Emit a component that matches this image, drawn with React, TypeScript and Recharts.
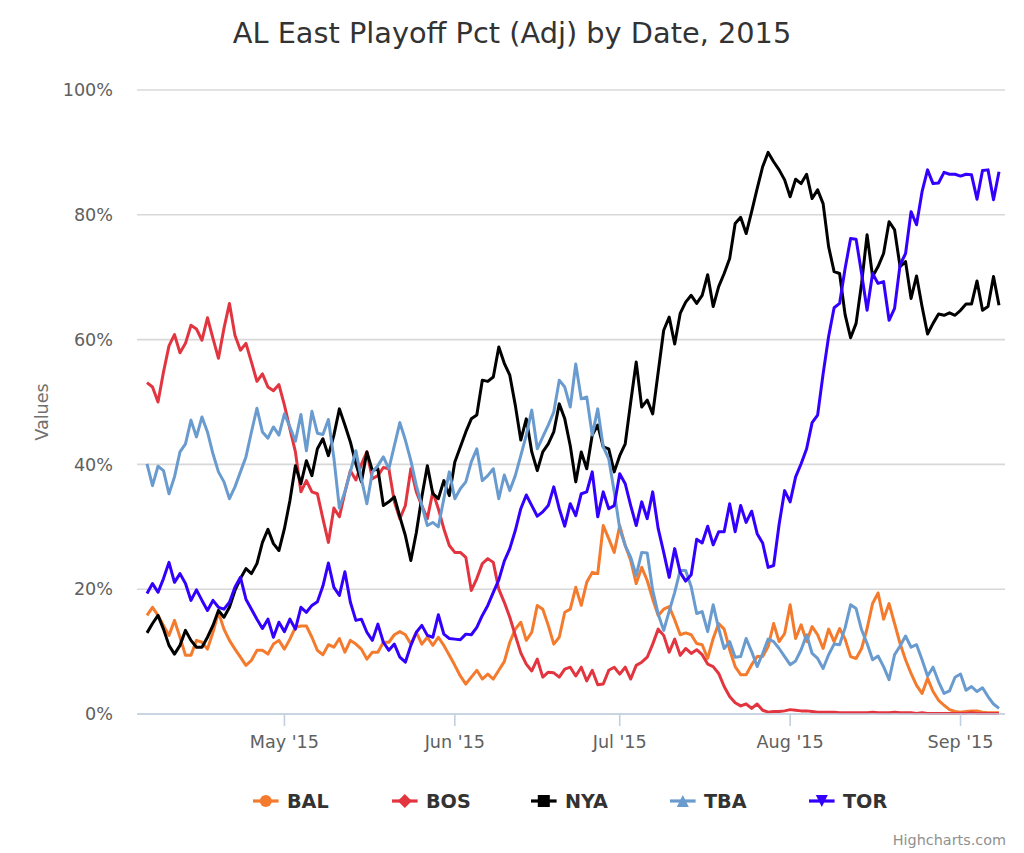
import React from 'react';
import { LineChart, Line, XAxis, YAxis, CartesianGrid } from 'recharts';

// Day index 0 = Apr 6, 2015 (one value per day)
const SERIES_NAMES = ['BAL', 'BOS', 'NYA', 'TBA', 'TOR'];
const SERIES_COLORS = ['#f47b2d', '#e2353f', '#000000', '#6a9bcf', '#3300ff'];
const SERIES_SYMBOLS = ['circle', 'diamond', 'square', 'triangle', 'triangle-down'];

const bal = [
  15.8, 17.1, 15.8, 14.2, 12.6, 15, 12.3, 9.4, 9.4, 11.8,
  11.5, 10.4, 13.1, 16.3, 13.6, 11.8, 10.4, 9.1, 7.8, 8.6,
  10.2, 10.2, 9.6, 11.2, 11.8, 10.4, 12, 13.9, 14.1, 14.1,
  12.3, 10.2, 9.5, 11.1, 10.7, 12.1, 9.9, 11.8, 11.2, 10.4,
  8.8, 9.9, 9.9, 11.5, 11.5, 12.7, 13.2, 12.7, 11.2, 13.1,
  11.2, 12.3, 11, 12.3, 11, 9.4, 7.8, 6.1, 4.8, 5.9,
  7, 5.6, 6.4, 5.6, 7, 8.4, 11.5, 13.6, 14.7, 11.8,
  13.1, 17.4, 16.8, 14.2, 11.2, 12.3, 16.3, 16.8, 20.3, 17.4,
  21.1, 22.7, 22.5, 30.2, 28.1, 25.9, 30.2, 27, 24.6, 20.9,
  23.5, 21.4, 18.4, 15.8, 16.8, 17.2, 15.1, 12.7, 13, 12.7,
  11.3, 11.1, 8.9, 12.1, 14.5, 13.6, 10.3, 7.6, 6.3, 6.3,
  7.9, 9.2, 9.2, 10.8, 14.5, 11.6, 12.9, 17.5, 12.1, 14.3,
  11.6, 14, 12.7, 10.5, 13.6, 11.6, 13.7, 12, 9.2, 8.9,
  10.5, 13.7, 17.7, 19.4, 15.2, 17.7, 14.5, 11.3, 8.7, 6.5,
  4.6, 3.3, 5.7, 3.6, 2.2, 1.4, 0.7, 0.4, 0.3, 0.4,
  0.5, 0.5, 0.3, 0.2, 0.2, 0.2,
];

const bos = [
  53.1, 52.4, 50, 54.8, 59, 60.8, 57.9, 59.4, 62.3, 61.7,
  59.9, 63.5, 60.2, 57, 61.8, 65.8, 60.7, 58.3, 59.4, 56.4,
  53.3, 54.5, 52.4, 51.8, 52.8, 49.5, 45.7, 42, 35.6, 37.4,
  35.6, 35.3, 31.3, 27.5, 33, 31.6, 35.5, 39, 37.5, 40,
  42, 37.7, 38.2, 39.5, 39.3, 34, 31.3, 33.4, 39.3, 35.6,
  33.4, 31.3, 35.6, 32.9, 29.7, 27, 25.9, 25.9, 25.1, 19.8,
  21.7, 24.1, 24.9, 24.3, 20, 17.9, 15.5, 12.6, 9.8, 8,
  6.9, 8.8, 5.9, 6.7, 6.6, 5.9, 7.2, 7.5, 6.1, 7.5,
  5.3, 7, 4.7, 4.8, 7, 7.5, 6.4, 7.5, 5.6, 7.8,
  8.3, 9.1, 11.2, 13.6, 12.6, 9.9, 12, 9.4, 10.5, 9.7,
  10.3, 9.5, 8, 7.6, 6.5, 4.4, 2.8, 1.8, 1.3, 1.6,
  0.9, 1.6, 0.6, 0.3, 0.4, 0.4, 0.5, 0.7, 0.6, 0.5,
  0.5, 0.4, 0.3, 0.3, 0.3, 0.3, 0.2, 0.2, 0.2, 0.2,
  0.2, 0.2, 0.3, 0.2, 0.2, 0.2, 0.3, 0.2, 0.2, 0.2,
  0.1, 0.2, 0.1, 0.1, 0.1, 0.1, 0.1, 0.1, 0.1, 0.1,
  0.2, 0.1, 0.1, 0.1, 0.1, 0.1,
];

const nya = [
  13, 14.5, 15.8, 13.6, 11, 9.6, 11, 13.4, 11.8, 10.7,
  10.7, 12.3, 14.2, 16.6, 15.5, 17.1, 19.8, 21.7, 23.3, 22.5,
  24.1, 27.5, 29.6, 27.3, 26.2, 29.7, 34.2, 39.8, 36.9, 40.6,
  38.2, 42.5, 44.1, 41.4, 44.7, 48.9, 46.3, 43.6, 40.1, 37.2,
  42, 39, 39.3, 33.4, 34, 34.8, 31.6, 28.6, 24.6, 29.1,
  34.8, 39.8, 35.3, 34.5, 37.4, 35, 40.4, 42.8, 45.2, 47.3,
  47.9, 53.5, 53.3, 54, 58.8, 56.2, 54.3, 49.5, 43.9, 47.3,
  42, 39, 42, 43.3, 45.2, 49.7, 47.3, 43, 37.2, 42,
  39.3, 44.7, 46.3, 42.8, 42.5, 38.8, 41.4, 43.3, 50, 56.4,
  49.2, 50.3, 48.1, 54.8, 61.5, 63.6, 59.3, 64.2, 66, 67.1,
  65.8, 67.1, 70.4, 65.3, 68.5, 70.6, 73, 78.6, 79.6, 77,
  80.5, 84.2, 87.7, 90, 88.5, 87.2, 85.6, 82.9, 85.7, 85,
  86.5, 82.6, 84, 81.8, 74.9, 70.9, 70.6, 64, 60.3, 62.6,
  69, 76.8, 70.1, 71.7, 73.8, 78.9, 77.6, 71.7, 72.5, 66.6,
  70.2, 65.3, 60.9, 62.6, 64.1, 63.9, 64.3, 63.9, 64.7, 65.7,
  65.7, 69.4, 64.7, 65.3, 70.1, 65.5,
];

const tba = [
  40.1, 36.6, 39.7, 39, 35.3, 38, 42, 43.3, 47.1, 44.4,
  47.6, 45.2, 41.7, 38.8, 37.2, 34.5, 36.4, 38.8, 41.2, 45.2,
  49, 45.2, 44.2, 46, 44.7, 48.1, 46, 43.7, 48, 42.2,
  48.5, 45, 44.8, 47.2, 41, 33, 35.6, 38.8, 42.2, 37.7,
  33.7, 38.8, 39.8, 41.2, 39.3, 43, 46.7, 43.9, 40.6, 36.6,
  33.4, 30.2, 30.7, 30, 34.5, 38.8, 34.5, 36.1, 37.2, 40.4,
  42.5, 37.4, 38.2, 39.3, 34.5, 38.3, 35.8, 38.2, 41.4, 44.7,
  48.7, 42.5, 44.4, 46.3, 48.4, 53.5, 52.4, 49.2, 56.1, 50.5,
  50.8, 44.7, 48.9, 42.8, 40.9, 35.6, 29.7, 27, 25.1, 22.2,
  25.9, 25.8, 19.8, 16, 13.4, 16.5, 19.5, 23, 23, 20.4,
  16.1, 16.4, 13.2, 17.5, 13.7, 10.5, 11.6, 9.1, 9.2, 12.1,
  10, 7.6, 9.7, 12, 11.6, 10.5, 9.2, 7.9, 8.5, 10.3,
  12.7, 9.7, 8.9, 7.3, 9.5, 11.2, 11.1, 13.8, 17.5, 16.9,
  13.5, 11.3, 8.7, 9.3, 7.6, 5.5, 9.5, 10.9, 12.5, 10.7,
  11.1, 8.7, 6.1, 7.5, 5.2, 3.3, 3.7, 5.9, 6.4, 3.8,
  4.4, 3.6, 4.2, 2.8, 1.6, 0.9,
];

const tor = [
  19.3, 20.9, 19.5, 21.7, 24.3, 21.1, 22.5, 20.9, 18.2, 19.9,
  18.2, 16.6, 18.2, 17.1, 16.8, 17.9, 20.3, 21.9, 18.4, 16.8,
  15.2, 13.7, 15.2, 12.3, 14.7, 13.2, 15.2, 13.6, 17.1, 16.3,
  17.4, 18, 20.5, 24.2, 20.3, 19, 22.8, 17.9, 15, 15.2,
  13.1, 11.8, 14.4, 11.5, 10.2, 11.2, 9.1, 8.3, 11, 13.1,
  14.2, 12.6, 12.3, 15.9, 12.8, 12.1, 12, 11.9, 12.8, 12.7,
  13.9, 15.8, 17.4, 19.5, 21.5, 24.5, 26.5, 29.4, 32.9, 35.1,
  33.4, 31.7, 32.4, 33.4, 36.4, 32.9, 30.1, 33.7, 31.8, 35.3,
  35.6, 38.8, 31.6, 35.6, 32.9, 33.4, 38.5, 36.9, 33.4, 30.2,
  34, 31.3, 35.6, 29.7, 25.9, 21.9, 26.5, 22.7, 21.3, 22.3,
  28, 27.4, 30.1, 27.1, 29.2, 29.2, 33.7, 29.2, 33.4, 30.7,
  32.5, 28.9, 27.4, 23.5, 23.8, 30.4, 35.8, 34, 38, 40.1,
  42.5, 46.7, 47.9, 54.5, 60.5, 65.1, 65.8, 71.4, 76.2, 76.1,
  70.6, 64.7, 70.6, 69, 69.3, 63.1, 65, 72, 73.8, 80.5,
  78.4, 83.7, 87.2, 85, 85.1, 86.8, 86.5, 86.5, 86.2, 86.5,
  86.4, 82.5, 87.1, 87.2, 82.4, 86.9,
];

// Month starts as day offsets from Apr 6
const MONTH_TICKS = [25, 56, 86, 117, 148];
const MONTH_LABELS = ["May '15", "Jun '15", "Jul '15", "Aug '15", "Sep '15"];
const Y_TICKS = [0, 20, 40, 60, 80, 100];

const SERIES_VALUES = [bal, bos, nya, tba, tor];

const data = bal.map((_, i) => {
  const row: Record<string, number> = { d: i };
  SERIES_NAMES.forEach((name, s) => {
    row[name] = SERIES_VALUES[s][i];
  });
  return row;
});

const FONT = '"DejaVu Sans", "Lucida Grande", Verdana, sans-serif';

function Symbol({ kind, cx, cy, color }: { kind: string; cx: number; cy: number; color: string }) {
  const r = 6;
  if (kind === 'circle') return <circle cx={cx} cy={cy} r={r} fill={color} />;
  if (kind === 'diamond')
    return <path d={`M${cx} ${cy - r - 1}L${cx + r + 1} ${cy}L${cx} ${cy + r + 1}L${cx - r - 1} ${cy}Z`} fill={color} />;
  if (kind === 'square') return <rect x={cx - r} y={cy - r} width={2 * r} height={2 * r} fill={color} />;
  if (kind === 'triangle')
    return <path d={`M${cx} ${cy - r}L${cx + r} ${cy + r}L${cx - r} ${cy + r}Z`} fill={color} />;
  return <path d={`M${cx - r} ${cy - r}L${cx + r} ${cy - r}L${cx} ${cy + r}Z`} fill={color} />;
}

export default function App() {
  const monthLabel = (v: number) => {
    const idx = MONTH_TICKS.indexOf(v);
    return idx >= 0 ? MONTH_LABELS[idx] : '';
  };
  return (
    <div style={{ position: 'absolute', left: 0, top: 0, width: 1024, height: 853, background: '#fff', fontFamily: FONT }}>
      <LineChart
        width={1024}
        height={853}
        data={data}
        margin={{ top: 90, right: 19, bottom: 99, left: 77 }}
      >
        <CartesianGrid vertical={false} stroke="#d8d8d8" strokeWidth={1.6} />
        <XAxis
          dataKey="d"
          type="number"
          domain={[-1.82, 156.09]}
          ticks={MONTH_TICKS}
          tickFormatter={monthLabel}
          height={40}
          axisLine={{ stroke: '#c0d0e0', strokeWidth: 1.6 }}
          tickLine={{ stroke: '#c0d0e0', strokeWidth: 1.6 }}
          tickSize={12}
          tickMargin={10}
          tick={{ fill: '#606060', fontSize: 17.6, fontFamily: FONT }}
        />
        <YAxis
          type="number"
          domain={[0, 100]}
          ticks={Y_TICKS}
          tickFormatter={(v: number) => `${v}%`}
          width={60}
          axisLine={false}
          tickLine={false}
          tickSize={0}
          tickMargin={24}
          tick={{ fill: '#606060', fontSize: 17.6, fontFamily: FONT }}
        />
        {SERIES_NAMES.map((name, s) => (
          <Line
            key={name}
            type="linear"
            dataKey={name}
            stroke={SERIES_COLORS[s]}
            strokeWidth={3}
            strokeLinejoin="round"
            dot={false}
            activeDot={false}
            isAnimationActive={false}
          />
        ))}
      </LineChart>
      <svg
        width={1024}
        height={853}
        style={{ position: 'absolute', left: 0, top: 0, pointerEvents: 'none' }}
      >
        <text x={512} y={43} textAnchor="middle" fontSize={28.8} fill="#333333" fontFamily={FONT}>
          AL East Playoff Pct (Adj) by Date, 2015
        </text>
        <text
          transform="translate(48,412) rotate(-90)"
          textAnchor="middle"
          fontSize={17.6}
          fill="#707070"
          fontFamily={FONT}
        >
          Values
        </text>
        {SERIES_NAMES.map((name, s) => {
          const x0 = 253 + s * 139;
          const cy = 801;
          return (
            <g key={name}>
              <line x1={x0} y1={cy} x2={x0 + 25.6} y2={cy} stroke={SERIES_COLORS[s]} strokeWidth={3.2} />
              <Symbol kind={SERIES_SYMBOLS[s]} cx={x0 + 12.8} cy={cy} color={SERIES_COLORS[s]} />
              <text x={x0 + 34} y={cy + 7} fontSize={19.2} fontWeight="bold" fill="#333333" fontFamily={FONT}>
                {name}
              </text>
            </g>
          );
        })}
        <text x={1006} y={845} textAnchor="end" fontSize={14.4} fill="#909090" fontFamily={FONT}>
          Highcharts.com
        </text>
      </svg>
    </div>
  );
}
